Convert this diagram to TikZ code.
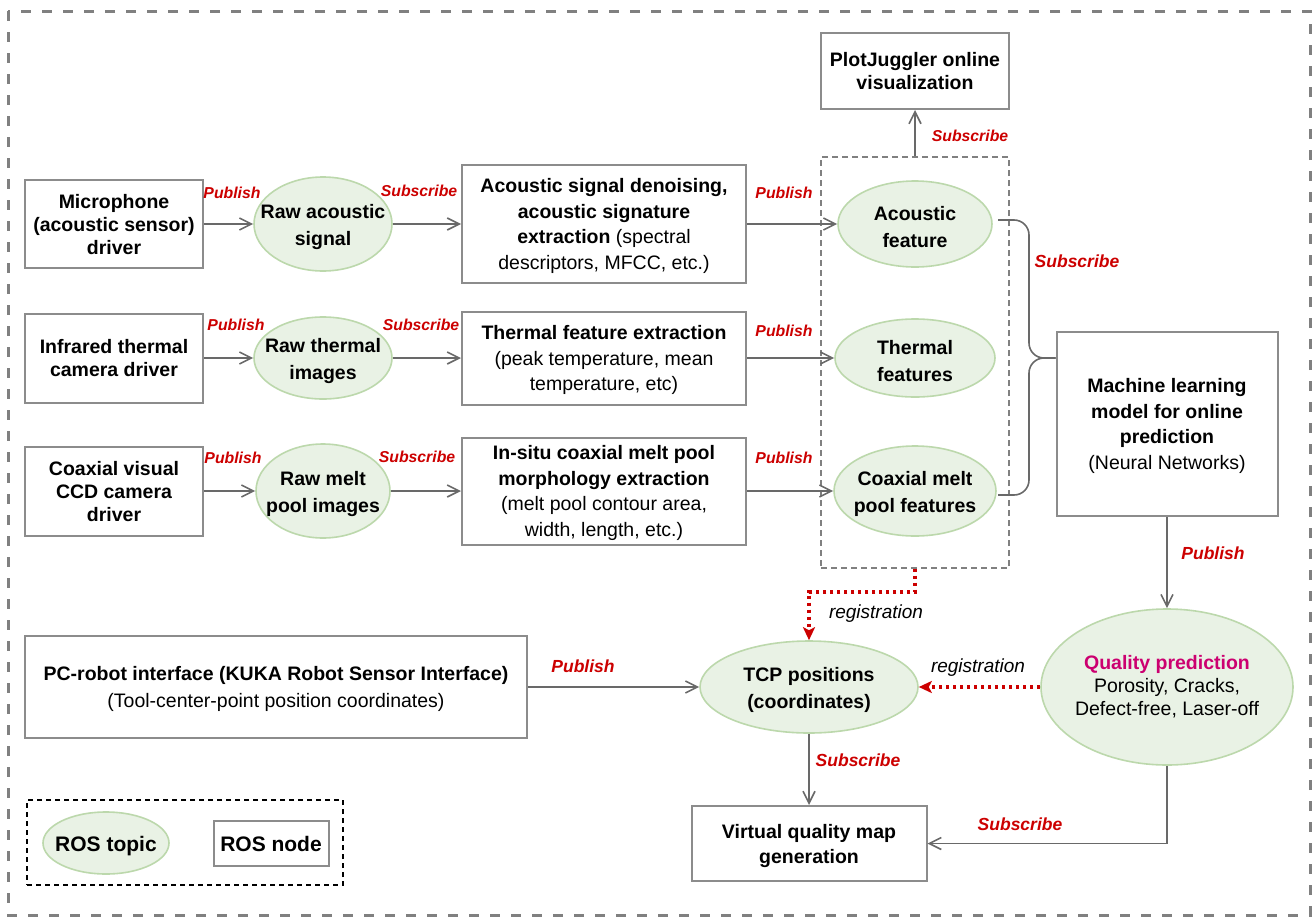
\documentclass[tikz,border=0pt]{standalone}
\usepackage{fontspec}
\setmainfont{Liberation Sans}
\usetikzlibrary{arrows.meta,shapes.geometric,calc}
\definecolor{boxgray}{RGB}{140,140,140}
\definecolor{argray}{RGB}{105,105,105}
\definecolor{tfill}{RGB}{233,242,229}
\definecolor{tdraw}{RGB}{188,216,172}
\definecolor{labred}{RGB}{204,0,0}
\definecolor{qmag}{RGB}{204,0,112}
\definecolor{outgray}{RGB}{128,128,128}
\newcommand\fsA{\fontsize{19.5}{23}\selectfont}
\newcommand\fsB{\fontsize{19.5}{25.5}\selectfont}
\newcommand\fsE{\fontsize{19.5}{26.5}\selectfont}
\newcommand\fsL{\fontsize{15.8}{18}\selectfont\bfseries\itshape}
\newcommand\fsLL{\fontsize{17.5}{20}\selectfont\bfseries\itshape}
\newcommand\fsR{\fontsize{19}{22}\selectfont\itshape}
\newcommand\fsG{\fontsize{21}{24}\selectfont\bfseries}
\begin{document}
\begin{tikzpicture}[x=1pt,y=-1pt,
  box/.style={draw=boxgray,line width=2pt,fill=white,align=center,inner sep=0pt,text depth=0pt,font=\fsA\bfseries},
  boxw/.style={box,font=\fsB\bfseries},
  topic/.style={ellipse,draw=tdraw,fill=tfill,line width=1.6pt,inner sep=0pt},
  ttext/.style={align=center,inner sep=0pt,yshift=-3pt,font=\fsE\bfseries},
  grpbox/.style={draw=outgray,line width=1.4pt,dash pattern=on 6pt off 4pt,inner sep=0pt},
  conn/.style={draw=argray,line width=1.6pt,-{Straight Barb[length=12pt,width=12pt]}},
  plain/.style={draw=argray,line width=1.6pt},
  reg/.style={draw=labred,line width=3.5pt,dash pattern=on 3.5pt off 3.5pt,-{Stealth[length=13pt,width=12pt,inset=3pt]}},
  lab/.style={text=labred,font=\fsL,inner sep=0pt},
  labb/.style={text=labred,font=\fsLL,inner sep=0pt},
  regl/.style={font=\fsR,inner sep=0pt},
]
\useasboundingbox (0,0) rectangle (1314,918);
\draw[outgray,line width=3pt,dash pattern=on 10pt off 11pt] (8,11) rectangle (1310,915);

% group of feature topics
\node[grpbox,minimum width=188pt,minimum height=411pt] (grp) at (915,362.5) {};

% row 1
\node[box,minimum width=178pt,minimum height=88pt] (mic) at (114,224) {Microphone\\(acoustic sensor)\\driver};
\node[topic,minimum width=138pt,minimum height=94pt] (ras) at (323,224) {};
\node[ttext] (ras-t) at (ras) {Raw acoustic\\signal};
\node[boxw,minimum width=284pt,minimum height=118pt] (asd) at (604,224) {Acoustic signal denoising,\\acoustic signature\\extraction \mdseries(spectral\\\mdseries descriptors, MFCC, etc.)};
\node[topic,minimum width=154pt,minimum height=86pt] (af) at (915,224) {};
\node[ttext] (af-t) at (af) {Acoustic\\feature};
\node[box,minimum width=188pt,minimum height=76pt] (pj) at (915,71) {PlotJuggler online\\visualization};

% row 2
\node[box,minimum width=178pt,minimum height=89pt] (ir) at (114,358) {Infrared thermal\\camera driver};
\node[topic,minimum width=138pt,minimum height=82pt] (rth) at (323,358) {};
\node[ttext] (rth-t) at (rth) {Raw thermal\\images};
\node[boxw,minimum width=284pt,minimum height=93pt] (tfe) at (604,358) {Thermal feature extraction\\\mdseries(peak temperature, mean\\\mdseries temperature, etc)};
\node[topic,minimum width=160pt,minimum height=78pt] (tf) at (915,358) {};
\node[ttext] (tf-t) at (tf) {Thermal\\features};

% row 3
\node[box,minimum width=178pt,minimum height=89pt] (ccd) at (114,491) {Coaxial visual\\CCD camera\\driver};
\node[topic,minimum width=134pt,minimum height=94pt] (rmp) at (323,491) {};
\node[ttext] (rmp-t) at (rmp) {Raw melt\\pool images};
\node[boxw,minimum width=284pt,minimum height=107pt] (ism) at (604,491) {In-situ coaxial melt pool\\morphology extraction\\\mdseries(melt pool contour area,\\\mdseries width, length, etc.)};
\node[topic,minimum width=162pt,minimum height=90pt] (cmp) at (915,491) {};
\node[ttext] (cmp-t) at (cmp) {Coaxial melt\\pool features};

% machine learning
\node[box,font=\fsB\bfseries,minimum width=221pt,minimum height=184pt] (ml) at (1167,424) {Machine learning\\model for online\\prediction\\\mdseries(Neural Networks)};

% quality prediction
\node[topic,minimum width=252pt,minimum height=156pt] (qp) at (1167,687) {};
\node[align=center,inner sep=0pt,font=\fontsize{19.5}{23}\selectfont] (qp-t) at (qp) {{\bfseries\color{qmag}Quality prediction}\\Porosity, Cracks,\\Defect-free, Laser-off};

% TCP
\node[topic,minimum width=218pt,minimum height=92pt] (tcp) at (809,687) {};
\node[ttext,font=\fontsize{19.5}{27}\selectfont\bfseries] (tcp-t) at (tcp) {TCP positions\\(coordinates)};

\node[box,font=\fontsize{19.5}{27}\selectfont\bfseries,minimum width=502pt,minimum height=102pt] (pc) at (276,687) {PC-robot interface (KUKA Robot Sensor Interface)\\\mdseries(Tool-center-point position coordinates)};

\node[box,font=\fontsize{19.5}{25}\selectfont\bfseries,minimum width=235pt,minimum height=75pt] (vqm) at (809,843.5) {Virtual quality map\\generation};

% legend
\node[draw=black,line width=1.6pt,dash pattern=on 5pt off 4pt,minimum width=316pt,minimum height=85pt,inner sep=0pt] (legend) at (185,842.5) {};
\node[topic,minimum width=126pt,minimum height=62pt] (lt) at (106,843) {};
\node[ttext,font=\fsG] (lt-t) at (lt) {ROS topic};
\node[box,font=\fsG,minimum width=115pt,minimum height=45pt] (ln) at (271,843.5) {ROS node};

% connectors
\draw[conn] (mic.east) -- (ras.west);
\draw[conn] (ras.east) -- (asd.west);
\draw[conn] (asd.east) -- (af.west);
\draw[conn] (ir.east) -- (rth.west);
\draw[conn] (rth.east) -- (tfe.west);
\draw[conn] (tfe.east) -- (tf.west);
\draw[conn] (ccd.east) -- (rmp.west);
\draw[conn] (rmp.east) -- (ism.west);
\draw[conn] (ism.east) -- (cmp.west);
\draw[conn] (grp.north) -- (pj.south);

% brace to ML model
\coordinate (bt) at (998,220);
\coordinate (bb) at (998,495);
\coordinate (bm) at (1029,358);
\draw[plain,rounded corners=15pt] (bt) -- (1029,220) -- (bm) -- (bm -| ml.west);
\draw[plain,rounded corners=15pt] (bb) -- (1029,495) -- (bm) -- (bm -| ml.west);

\draw[conn] (ml.south) -- (qp.north);
\draw[conn] (qp.south) |- (vqm.east);
\draw[conn] (tcp.south) -- (vqm.north);
\draw[conn] (pc.east) -- (tcp.west);

\coordinate (rk) at (809,592);
\draw[reg] (grp.south) |- (rk) -- (tcp.north);
\draw[reg] (qp.west) -- (tcp.east);

% labels
\node[lab] (p1) at (232,193) {Publish};
\node[lab] (s1) at (419,191) {Subscribe};
\node[lab] (p1b) at (784,193) {Publish};
\node[lab] (p2) at (236,325) {Publish};
\node[lab] (s2) at (421,325) {Subscribe};
\node[lab] (p2b) at (784,331) {Publish};
\node[lab] (p3) at (233,458) {Publish};
\node[lab] (s3) at (417,457) {Subscribe};
\node[lab] (p3b) at (784,458) {Publish};
\node[lab] (spj) at (970,136) {Subscribe};
\node[labb] (sml) at (1077,261) {Subscribe};
\node[labb] (pml) at (1213,553) {Publish};
\node[labb] (ppc) at (583,666) {Publish};
\node[labb] (stcp) at (858,760) {Subscribe};
\node[labb] (sqp) at (1020,824) {Subscribe};
\node[regl] (r1) at (876,614) {registration};
\node[regl] (r2) at (978,668) {registration};
\end{tikzpicture}
\end{document}
